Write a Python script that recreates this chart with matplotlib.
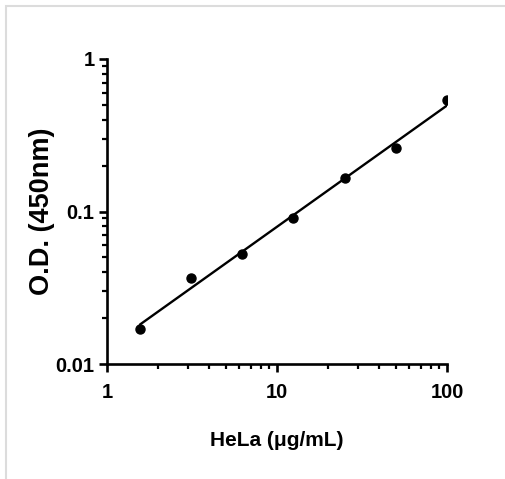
import numpy as np
import matplotlib.pyplot as plt
from matplotlib.patches import Rectangle
from matplotlib.ticker import LogLocator, FixedLocator, FixedFormatter, NullFormatter

plt.rcParams['font.family'] = ['Liberation Sans', 'DejaVu Sans']

# HeLa lysate standard curve
conc = [1.5625, 3.125, 6.25, 12.5, 25, 50, 100]
od = [0.017, 0.0366, 0.0526, 0.0907, 0.166, 0.26, 0.538]
x_ticks = [1, 10, 100]
x_labels = ['1', '10', '100']
y_ticks = [0.01, 0.1, 1]
y_labels = ['0.01', '0.1', '1']

fig = plt.figure(figsize=(5.06, 4.79), dpi=100)
fig.patches.append(Rectangle((6 / 506, -0.01), 1.02, 1 - 6 / 479 + 0.01,
                             transform=fig.transFigure, fill=False,
                             edgecolor='#dcdcdc', linewidth=1.5))
ax = fig.add_axes([107 / 506, 1 - 364 / 479, 340 / 506, 305 / 479])

# log-log linear fit
lx, ly = np.log10(conc), np.log10(od)
k, b = np.polyfit(lx, ly, 1)
xf = np.array([conc[0], conc[-1]])
ax.plot(xf, 10 ** (k * np.log10(xf) + b), color='black', lw=1.7, solid_capstyle='round')
ax.plot(conc, od, 'o', color='black', ms=6.5)

ax.set_xscale('log')
ax.set_yscale('log')
ax.set_xlim(1, 100)
ax.set_ylim(0.01, 1)

ax.xaxis.set_major_locator(FixedLocator(x_ticks))
ax.xaxis.set_major_formatter(FixedFormatter(x_labels))
ax.yaxis.set_major_locator(FixedLocator(y_ticks))
ax.yaxis.set_major_formatter(FixedFormatter(y_labels))
ax.xaxis.set_minor_locator(LogLocator(base=10, subs=np.arange(2, 10)))
ax.yaxis.set_minor_locator(LogLocator(base=10, subs=np.arange(2, 10)))
ax.xaxis.set_minor_formatter(NullFormatter())
ax.yaxis.set_minor_formatter(NullFormatter())

for s in ['top', 'right']:
    ax.spines[s].set_visible(False)
for s in ['left', 'bottom']:
    ax.spines[s].set_linewidth(1.9)
ax.tick_params(which='major', length=6, width=1.9, labelsize=14.5)
ax.tick_params(axis='x', which='major', pad=8)
ax.tick_params(axis='y', which='major', pad=3)
ax.tick_params(which='minor', length=3.5, width=1.6)
for t in ax.get_xticklabels() + ax.get_yticklabels():
    t.set_fontweight('bold')

ax.set_xlabel('HeLa (μg/mL)', fontsize=15, fontweight='bold')
ax.xaxis.set_label_coords((277 - 107) / 340, (364 - 440) / 305)
ax.xaxis.label.set_va('center')
ax.set_ylabel('O.D. (450nm)', fontsize=19.5, fontweight='bold')
ax.yaxis.set_label_coords((42 - 107) / 340, (364 - 211) / 305)
ax.yaxis.label.set_va('center')

fig.savefig('out.png', dpi=100)
